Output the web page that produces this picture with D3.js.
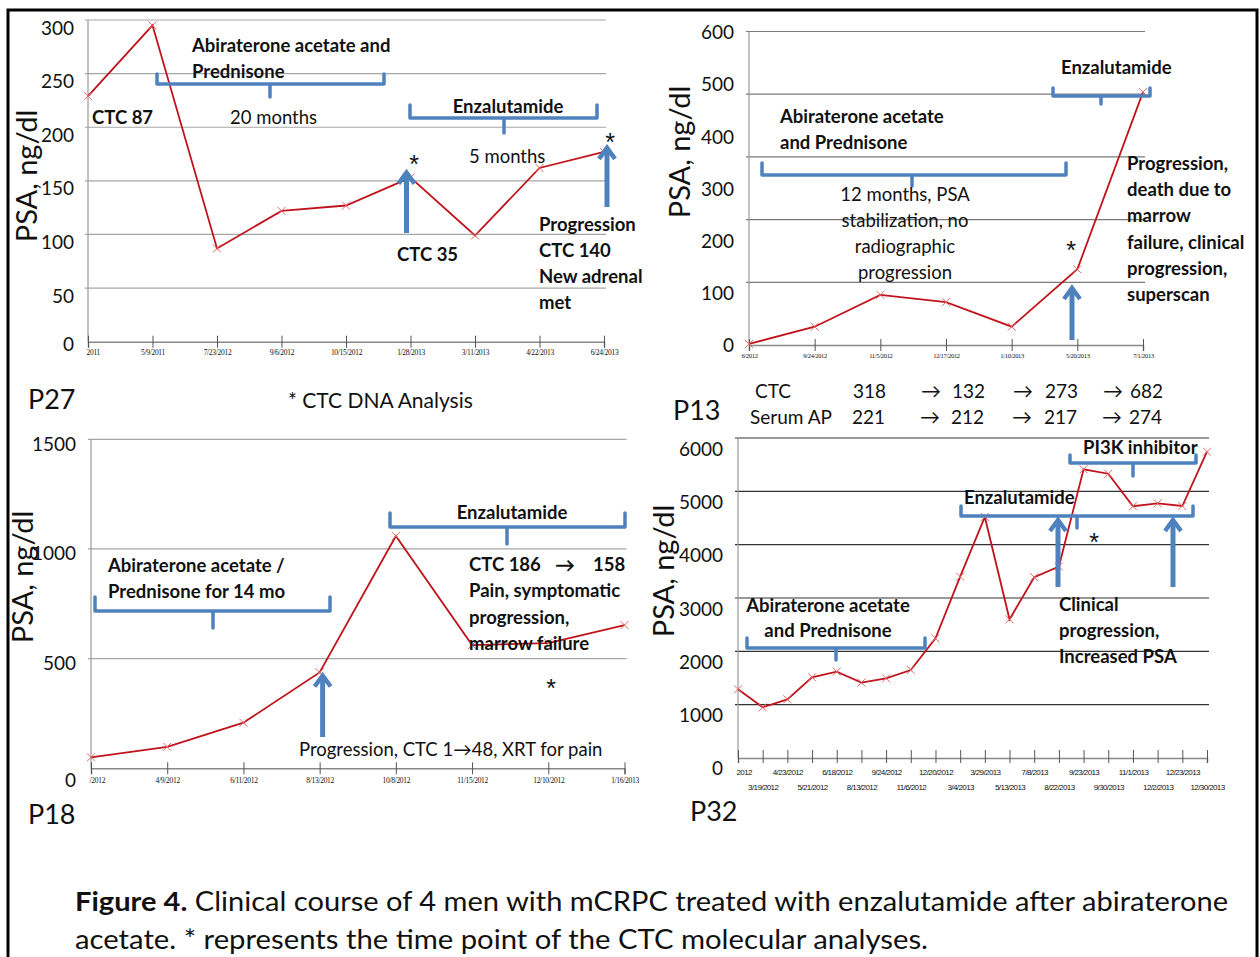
<!DOCTYPE html>
<html>
<head>
<meta charset="utf-8">
<script src="https://cdn.jsdelivr.net/npm/d3@7"></script>
<style>
  body { margin: 0; background: #fff; }
  svg text { font-family: Lato, "Open Sans", sans-serif; fill: #111; }
</style>
</head>
<body>
<svg id="fig" width="1260" height="957"></svg>
<script>
// ---- data ----
var dates27 = ["2011", "5/9/2011", "7/23/2012", "9/6/2012", "10/15/2012", "1/28/2013", "3/11/2013", "4/22/2013", "6/24/2013"];
var psa27 = [229, 295, 87, 122, 127, 153, 99, 162, 177];
var ticks27 = [0, 50, 100, 150, 200, 250, 300];

var dates13 = ["6/2012", "9/24/2012", "11/5/2012", "12/17/2012", "1/10/2013", "5/20/2013", "7/1/2013"];
var psa13 = [2, 35, 96, 82, 35, 145, 484];
var ticks13 = [0, 100, 200, 300, 400, 500, 600];
var grid13 = [120, 240, 360, 480, 600];
var ctc13 = ["318", "132", "273", "682"];
var serumAP13 = ["221", "212", "217", "274"];

var dates18 = ["/2012", "4/9/2012", "6/11/2012", "8/13/2012", "10/8/2012", "11/15/2012", "12/10/2012", "1/16/2013"];
var psa18 = [50, 98, 208, 437, 1059, 562, 571, 653];
var ticks18 = [0, 500, 1000, 1500];

var dates32 = ["2012", "3/19/2012", "4/23/2012", "5/21/2012", "6/18/2012", "8/13/2012", "9/24/2012", "11/6/2012",
  "12/20/2012", "3/4/2013", "3/29/2013", "5/13/2013", "7/8/2013", "8/22/2013", "9/23/2013", "9/30/2013",
  "11/1/2013", "12/2/2013", "12/23/2013", "12/30/2013"];
var psa32 = [1288, 950, 1100, 1513, 1619, 1413, 1494, 1650, 2244, 3400, 4520, 2600, 3390, 3590, 5413, 5330, 4720, 4775, 4725, 5744];
var ticks32 = [0, 1000, 2000, 3000, 4000, 5000, 6000];

var BLUE = "#4f81bd";
var svg = d3.select("#fig");

// frame
svg.append("path")
  .attr("d", "M8,957 L8,10 L1257,10 L1257,957")
  .attr("fill", "none").attr("stroke", "#000").attr("stroke-width", 3);

function drawPanel(p) {
  var g = svg.append("g");
  var x = d3.scaleLinear().domain([0, p.dates.length - 1]).range([p.x0, p.x1]);
  var y = d3.scaleLinear().domain([0, p.max]).range([p.y0, p.y1]);

  g.selectAll(".grid").data(p.grid).join("line")
    .attr("x1", p.x0 - 3).attr("x2", p.x1 + 2)
    .attr("y1", function (d) { return y(d); })
    .attr("y2", function (d) { return y(d); })
    .attr("stroke", p.gridColor).attr("stroke-width", 1.2);

  g.append("line")
    .attr("x1", p.x0).attr("x2", p.x0).attr("y1", y(0)).attr("y2", y(p.max))
    .attr("stroke", "#999").attr("stroke-width", 1.2);

  var xa = g.append("g")
    .attr("transform", "translate(0," + y(0) + ")")
    .call(d3.axisBottom(x)
      .tickValues(d3.range(p.dates.length))
      .tickFormat(function (i) { return p.dates[i]; })
      .tickSize(p.tickDown).tickPadding(3));
  xa.select(".domain").attr("stroke", "#888").attr("stroke-width", 1.5);
  xa.selectAll(".tick line").attr("y1", -p.tickUp).attr("stroke", "#555");
  xa.selectAll(".tick text")
    .style("font-family", p.tickFont)
    .style("font-size", p.tickSize + "px")
    .style("letter-spacing", p.tickSpacing + "px")
    .attr("fill", "#222")
    .attr("y", function (i) { return p.tickY + (p.twoRows && i % 2 ? p.rowGap : 0); })
    .attr("dy", "0.35em")
    .attr("text-anchor", function (i) { return i === 0 && p.firstStart ? "start" : "middle"; })
    .attr("x", function (i) { return i === 0 && p.firstStart ? -2 : 0; });

  g.selectAll(".ylab").data(p.ticks).join("text")
    .attr("x", p.labelX)
    .attr("y", function (d) { return y(d) + (d === 0 ? p.zeroDy : p.labelDy); })
    .attr("text-anchor", "end").attr("dominant-baseline", "central")
    .style("font-size", "19px")
    .text(function (d) { return d; });

  g.append("text")
    .attr("transform", "translate(" + p.titleX + "," + p.titleY + ") rotate(-90)")
    .attr("text-anchor", "middle").attr("dominant-baseline", "central")
    .style("font-size", "29px")
    .text("PSA, ng/dl");

  var line = d3.line()
    .x(function (d, i) { return x(i); })
    .y(function (d) { return y(d); });
  g.append("path").datum(p.values)
    .attr("d", line).attr("fill", "none")
    .attr("stroke", "#c0141c").attr("stroke-width", 1.8);

  g.selectAll(".mk").data(p.values).join("path")
    .attr("d", function (d, i) {
      var cx = x(i), cy = y(d), r = 4;
      return "M" + (cx - r) + "," + (cy - r) + "L" + (cx + r) + "," + (cy + r) +
        "M" + (cx - r) + "," + (cy + r) + "L" + (cx + r) + "," + (cy - r);
    })
    .attr("stroke", "#e26a6a").attr("stroke-width", 1);

  return { x: x, y: y, g: g };
}

function bracket(b) {
  svg.append("path")
    .attr("d", "M" + b.x1 + "," + (b.y - b.up) + " L" + b.x1 + "," + b.y + " L" + b.x2 + "," + b.y + " L" + b.x2 + "," + (b.y - b.up) +
      " M" + b.xm + "," + b.y + " L" + b.xm + "," + (b.y + b.down))
    .attr("fill", "none").attr("stroke", BLUE).attr("stroke-width", 3.5)
    .attr("stroke-linejoin", "round").attr("stroke-linecap", "round");
}

function arrow(ax, yBottom, yTip) {
  svg.append("line")
    .attr("x1", ax).attr("x2", ax).attr("y1", yBottom).attr("y2", yTip + 3)
    .attr("stroke", BLUE).attr("stroke-width", 5);
  svg.append("path")
    .attr("d", "M" + (ax - 8) + "," + (yTip + 11) + " L" + ax + "," + yTip + " L" + (ax + 8) + "," + (yTip + 11))
    .attr("fill", "none").attr("stroke", BLUE).attr("stroke-width", 4.5)
    .attr("stroke-linejoin", "miter");
}

function label(t, lx, ly, opts) {
  opts = opts || {};
  svg.append("text")
    .attr("x", lx).attr("y", ly)
    .attr("dominant-baseline", "central")
    .attr("text-anchor", opts.anchor || "start")
    .style("font-size", (opts.size || 18.5) + "px")
    .style("font-weight", opts.bold ? 700 : 400)
    .text(t);
}

// asterisk markers (CTC analysis time points)
function star(sx, sy) {
  svg.append("text")
    .attr("x", sx).attr("y", sy + 7)
    .attr("text-anchor", "middle").attr("dominant-baseline", "central")
    .style("font-family", "Liberation Sans")
    .style("font-size", "25px")
    .text("*");
}

// ---- P27 ----
var p27 = drawPanel({
  dates: dates27, values: psa27, ticks: ticks27, grid: ticks27.slice(1), max: 300,
  x0: 88, x1: 604, y0: 341.7, y1: 20, gridColor: "#a6a6a6",
  tickDown: 6, tickUp: 6, tickY: 11, tickFont: "Liberation Serif", tickSize: 7.5, tickSpacing: -0.3, firstStart: true,
  labelX: 74, labelDy: 7, zeroDy: 1.5, titleX: 25, titleY: 176
});
bracket({ x1: 157, x2: 384, y: 84, up: 10, xm: 270, down: 13 });
bracket({ x1: 410, x2: 597, y: 118, up: 13, xm: 504, down: 15 });
arrow(p27.x(5) - 4, 233, p27.y(psa27[5]) - 5);
arrow(p27.x(8) + 3, 207, p27.y(psa27[8]) - 4);
label("Abiraterone acetate and", 192, 45, { bold: true });
label("Prednisone", 192, 71, { bold: true });
label("20 months", 230, 117);
label("CTC 87", 92, 117, { bold: true });
label("Enzalutamide", 508, 106, { bold: true, anchor: "middle" });
label("5 months", 469, 156);
star(414, 157);
star(610, 135);
label("CTC 35", 397, 254, { bold: true });
label("Progression", 539, 224, { bold: true });
label("CTC 140", 539, 250, { bold: true });
label("New adrenal", 539, 276, { bold: true });
label("met", 539, 302, { bold: true });
label("P27", 28, 398, { size: 27 });
label("* CTC DNA Analysis", 288, 399, { size: 21 });

// ---- P13 ----
var p13 = drawPanel({
  dates: dates13, values: psa13, ticks: ticks13, grid: grid13, max: 600,
  x0: 749, x1: 1143, y0: 345, y1: 31.5, gridColor: "#7a7a7a",
  tickDown: 6, tickUp: 6, tickY: 11, tickFont: "Liberation Serif", tickSize: 6.5, tickSpacing: -0.3, firstStart: false,
  labelX: 734, labelDy: 0, zeroDy: -1, titleX: 678, titleY: 152
});
bracket({ x1: 1053, x2: 1150, y: 96, up: 8, xm: 1101, down: 8 });
bracket({ x1: 762, x2: 1066, y: 175, up: 12, xm: 912, down: 11 });
arrow(1072, 340, 288);
label("Enzalutamide", 1061, 67, { bold: true });
label("Abiraterone acetate", 780, 116, { bold: true });
label("and Prednisone", 780, 142, { bold: true });
label("12 months, PSA", 905, 194, { anchor: "middle" });
label("stabilization, no", 905, 220, { anchor: "middle" });
label("radiographic", 905, 246, { anchor: "middle" });
label("progression", 905, 272, { anchor: "middle" });
star(1071, 243);
["Progression,", "death due to", "marrow", "failure, clinical", "progression,", "superscan"].forEach(function (t, i) {
  label(t, 1127, 163 + i * 26.2, { bold: true });
});
label("P13", 673, 409, { size: 27 });
label("CTC", 755, 390, { size: 19 });
label("Serum AP", 750, 416, { size: 19 });
var colX = [853, 952, 1045, 1130];
var arrX = [921, 1013, 1103];
ctc13.forEach(function (v, i) { label(v, colX[i], 390, { size: 19 }); });
serumAP13.forEach(function (v, i) { label(v, colX[i] - 1, 416, { size: 19 }); });
arrX.forEach(function (ax) {
  label("\u2192", ax, 390, { size: 20 });
  label("\u2192", ax - 1, 416, { size: 20 });
});

// ---- P18 ----
var p18 = drawPanel({
  dates: dates18, values: psa18, ticks: ticks18, grid: ticks18.slice(1), max: 1500,
  x0: 91, x1: 624.5, y0: 768.3, y1: 439.3, gridColor: "#a6a6a6",
  tickDown: 6, tickUp: 6, tickY: 12, tickFont: "Liberation Serif", tickSize: 7.5, tickSpacing: -0.3, firstStart: true,
  labelX: 76, labelDy: 4, zeroDy: 11, titleX: 21, titleY: 577
});
bracket({ x1: 95, x2: 330, y: 611, up: 14, xm: 213, down: 17 });
bracket({ x1: 390, x2: 625, y: 527, up: 14, xm: 507, down: 17 });
arrow(p18.x(3) + 3, 737, p18.y(psa18[3]) + 3);
label("Abiraterone acetate /", 108, 565, { bold: true });
label("Prednisone for 14 mo", 108, 591, { bold: true });
label("Enzalutamide", 512, 512, { bold: true, anchor: "middle" });
label("CTC 186", 469, 564, { bold: true });
label("\u2192", 555, 564, { bold: true, size: 20 });
label("158", 593, 564, { bold: true });
label("Pain, symptomatic", 469, 590, { bold: true });
label("progression,", 469, 617, { bold: true });
label("marrow failure", 469, 643, { bold: true });
star(551, 681);
label("Progression, CTC 1\u219248, XRT for pain", 299, 749);
label("P18", 28, 813, { size: 27 });

// ---- P32 ----
var p32 = drawPanel({
  dates: dates32, values: psa32, ticks: ticks32, grid: ticks32.slice(1), max: 6000,
  x0: 738, x1: 1207, y0: 758, y1: 438, gridColor: "#333",
  tickDown: 5, tickUp: 8, tickY: 14, twoRows: true, rowGap: 15, tickFont: "Liberation Sans", tickSize: 8, tickSpacing: -0.6, firstStart: true,
  labelX: 723, labelDy: 10, zeroDy: 9, titleX: 662, titleY: 571
});
bracket({ x1: 747, x2: 925, y: 648, up: 10, xm: 836, down: 12 });
bracket({ x1: 961, x2: 1193, y: 516, up: 10, xm: 1077, down: 12 });
bracket({ x1: 1070, x2: 1196, y: 463, up: 8, xm: 1133, down: 13 });
arrow(1058, 587, 520);
arrow(1173, 587, 520);
label("Abiraterone acetate", 828, 605, { bold: true, anchor: "middle" });
label("and Prednisone", 828, 630, { bold: true, anchor: "middle" });
label("Enzalutamide", 964, 497, { bold: true });
label("PI3K inhibitor", 1083, 447, { bold: true });
star(1094, 535);
label("Clinical", 1059, 604, { bold: true });
label("progression,", 1059, 630, { bold: true });
label("Increased PSA", 1059, 656, { bold: true });
label("P32", 690, 810, { size: 27 });

// ---- caption ----
var cap1 = svg.append("text").attr("x", 75).attr("y", 911)
  .attr("textLength", 1153).attr("lengthAdjust", "spacingAndGlyphs")
  .style("font-size", "27px");
cap1.append("tspan").style("font-weight", 700).text("Figure 4.");
cap1.append("tspan").text(" Clinical course of 4 men with mCRPC treated with enzalutamide after abiraterone");
svg.append("text").attr("x", 75).attr("y", 949)
  .attr("textLength", 853).attr("lengthAdjust", "spacingAndGlyphs")
  .style("font-size", "27px")
  .text("acetate. * represents the time point of the CTC molecular analyses.");
</script>
</body>
</html>
